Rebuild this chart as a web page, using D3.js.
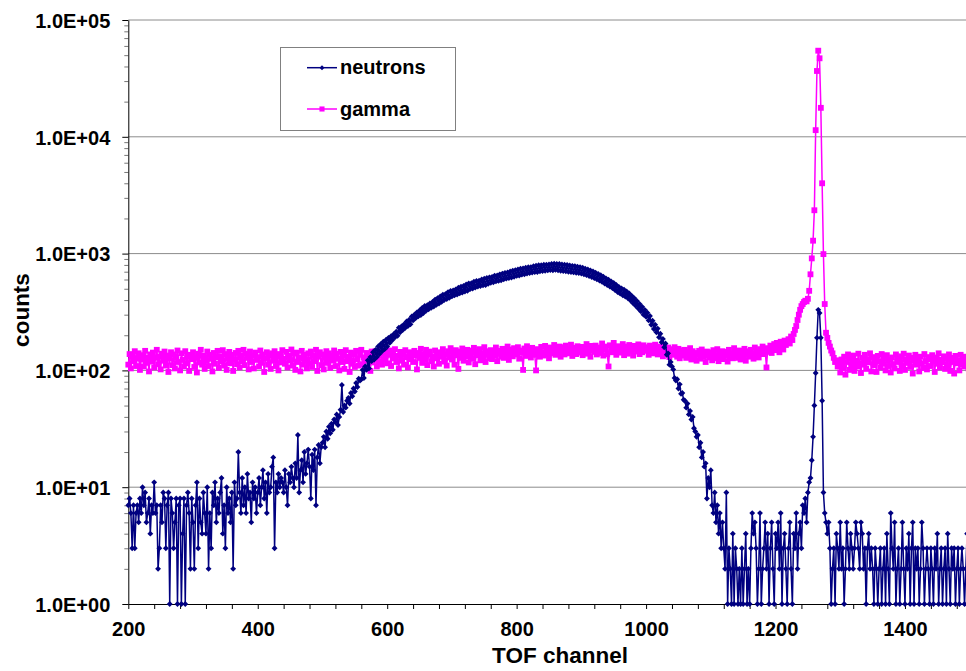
<!DOCTYPE html>
<html>
<head>
<meta charset="utf-8">
<script src="https://cdn.jsdelivr.net/npm/d3@7"></script>
<style>
  body { margin: 0; background: #fff; }
  svg { display: block; font-family: 'Liberation Sans', Arial, sans-serif; font-weight: bold; }
  .axis text { font-size: 20px; font-weight: bold; fill: #000; }
  .axis path, .axis line { stroke: #000; }
  .minor line { stroke: #777; }
  .grid { stroke: #8c8c8c; stroke-width: 1; }
  .title { font-size: 22.5px; fill: #000; }
  .legend text { font-size: 20px; fill: #000; }
</style>
</head>
<body>
<div id="container"></div>
<script>
// channels start at 200, one value every 2 channels
const channelStart = 200
const channelStep = 2

const neutronCounts = [
  7,8,6,3,7,3,6,7,5,8,          // 200
  6,10,7,9,5,6,8,4,7,6,         // 220
  11,6,7,2,3,7,5,9,8,3,         // 240
  7,9,1,8,6,3,5,8,1,7,          // 260
  8,1,4,8,1,7,9,6,2,8,          // 280
  5,2,7,11,3,8,5,4,9,6,         // 300
  4,10,2,6,3,9,7,11,5,8,        // 320
  6,9,12,4,7,3,10,6,8,5,        // 340
  9,2,11,7,8,20,9,6,12,7,       // 360
  10,6,13,8,9,5,11,8,10,6,      // 380
  9,12,7,10,14,8,11,6,13,9,     // 400
  10,15,18,3,11,9,13,10,12,11,  // 420
  9,14,10,7,13,11,15,12,10,16,  // 440
  12,28,9,14,17,11,20,13,16,21, // 460
  15,8,19,14,21,7,18,23,16,22,  // 480
  24,27,22,30,26,33,29,35,31,38,        // 500
  36,42,34,40,46,75,44,50,48,55,        // 520
  58,52,64,60,70,66,78,72,85,82,        // 540
  84,101,86,108,101,122,104,130,120,143,   // 560
  124,150,130,160,138,168,146,176,152,182, // 580
  160,190,172,196,182,204,192,214,198,232, // 600
  212,238,222,248,232,262,240,272,248,290, // 620
  268,300,280,314,290,326,298,342,310,356, // 640
  324,362,334,374,344,386,352,404,364,416, // 660
  374,430,386,444,400,450,408,468,418,478, // 680
  430,484,440,494,446,510,456,520,464,528, // 700
  474,544,480,556,496,558,502,574,512,582, // 720
  522,586,528,600,536,610,538,618,550,626, // 740
  562,632,568,648,578,650,584,664,592,674, // 760
  602,684,610,690,618,704,624,714,634,722, // 780
  644,732,648,742,660,748,666,756,676,764, // 800
  682,766,688,780,694,788,696,794,706,796, // 820
  710,804,714,802,718,808,722,816,720,818, // 840
  728,816,720,814,714,808,710,804,706,798, // 860
  700,792,696,786,690,782,686,772,682,766, // 880
  674,756,666,742,654,732,642,718,630,702, // 900
  616,686,602,670,588,652,572,634,554,614, // 920
  538,598,522,578,506,560,488,538,468,518, // 940
  454,504,440,490,428,474,414,456,396,434, // 960
  376,414,358,392,338,370,320,350,300,330, // 980
  288,312,268,292,246,266,226,246,212,228, // 1000
  192,206,174,186,158,170,136,140,112,118, // 1020
  108,102,86,82,84,70,76,63,64,56,         // 1040
  55,48,52,42,45,38,40,32,30,27,           // 1060
  28,22,24,18,20,15,16,8,12,10,            // 1080
  14,7,6,9,5,7,4,6,3,5,      // 1100
  3,2,9,1,3,2,1,4,1,3,       // 1120
  2,1,2,1,3,1,2,4,1,2,       // 1140
  1,3,6,4,5,3,1,2,6,1,       // 1160
  2,3,5,2,4,1,3,5,2,1,       // 1180
  4,3,5,2,6,1,3,4,2,1,       // 1200
  3,5,2,1,4,3,6,2,4,5,       // 1220
  3,7,6,8,5,9,11,12,17,27,   // 1240
  50,95,190,330,310,190,55,9,6,5, // 1260
  4,5,3,1,2,3,1,4,3,2,       // 1280
  5,2,3,1,2,5,3,2,4,3,       // 1300
  2,3,5,4,3,2,5,4,2,3,       // 1320
  1,3,4,2,3,2,1,3,2,1,       // 1340
  2,3,1,2,3,1,4,2,1,6,       // 1360
  3,2,5,1,2,3,1,2,5,2,       // 1380
  1,3,2,4,1,3,5,1,3,2,       // 1400
  3,1,2,5,3,1,2,3,2,1,       // 1420
  3,2,1,3,2,4,1,2,3,1,       // 1440
  2,3,1,4,2,1,3,2,3,1,       // 1460
  2,3,1,2,3,2,1,2,4,3,       // 1480
  2                          // 1500
]

const gammaCounts = [
  112,138,104,131,120,146,109,127,140,101, // 200
  124,135,108,147,116,129,98,137,119,142,  // 220
  106,128,150,113,132,102,139,121,145,110, // 240
  134,97,126,143,111,137,104,129,148,118,  // 260
  100,140,123,108,146,115,131,99,136,125,  // 280
  143,107,128,96,139,117,150,112,133,103,  // 300
  121,145,109,136,126,98,141,114,130,147,  // 320
  105,132,119,149,110,138,101,127,144,115, // 340
  136,99,124,141,113,147,106,133,120,150,  // 360
  111,139,128,102,145,118,134,104,142,123, // 380
  130,108,148,116,137,97,126,143,112,135,  // 400
  103,140,121,146,109,131,100,138,117,149, // 420
  126,114,144,106,133,122,151,110,139,101, // 440
  142,118,129,98,147,112,136,124,104,140,  // 460
  115,145,107,134,120,150,99,131,143,111,  // 480
  137,102,128,146,116,140,105,133,122,148, // 500
  109,139,126,100,144,118,135,103,149,120, // 520
  131,97,142,114,138,107,147,125,110,136,  // 540
  150,113,129,104,141,122,137,99,145,117,  // 560
  128,146,108,134,119,151,112,139,124,142, // 580
  115,136,148,109,140,127,152,118,133,104, // 600
  144,121,137,112,149,130,106,143,125,139, // 620
  118,147,134,102,141,128,153,116,138,123, // 640
  150,111,136,145,120,132,108,148,127,140, // 660
  114,143,131,152,119,137,110,146,129,155, // 680
  124,139,112,149,135,103,145,128,154,121, // 700
  141,132,150,117,138,147,126,156,113,144, // 720
  135,152,122,141,130,158,118,146,137,127, // 740
  149,125,143,134,157,120,147,139,131,153, // 760
  128,146,138,160,123,151,140,132,155,144, // 780
  137,158,126,148,142,101,154,133,161,139, // 800
  150,129,156,141,136,100,152,145,131,159, // 820
  143,134,162,138,151,127,157,146,140,165, // 840
  136,154,142,160,131,149,158,137,163,145, // 860
  152,140,166,133,156,147,138,161,150,142, // 880
  159,135,153,146,168,139,155,131,162,148, // 900
  144,163,137,157,150,141,170,134,160,152, // 920
  138,108,164,143,155,172,146,136,161,149, // 940
  157,142,168,135,153,160,139,165,147,158, // 960
  134,162,150,145,167,138,156,143,164,151, // 980
  147,158,136,163,144,155,140,166,149,137, // 1000
  160,143,154,132,161,146,139,157,130,152, // 1020
  145,136,158,141,131,153,127,149,140,134, // 1040
  150,128,144,137,155,124,146,133,141,121, // 1060
  138,147,126,151,132,140,118,145,135,129, // 1080
  143,122,149,134,127,152,120,141,130,146, // 1100
  125,144,136,119,150,131,140,127,155,133, // 1120
  139,128,148,124,142,135,153,121,146,137, // 1140
  131,150,140,126,157,136,145,129,152,142, // 1160
  160,138,148,106,155,144,163,141,152,168, // 1180
  149,172,158,143,176,162,151,180,165,174, // 1200
  185,170,195,182,205,222,240,270,300,330, // 1220
  355,370,385,395,390,410,480,665,910,1290, // 1240
  2350,11400,36600,54600,47000,17700,4000,990,370,210, // 1260
  190,172,160,148,140,128,118,122,108,114, // 1280
  96,124,105,131,92,118,137,101,126,110,   // 1300
  134,99,121,108,139,115,95,128,112,136,   // 1320
  103,125,117,140,98,130,111,122,97,133,   // 1340
  119,106,138,114,127,100,135,109,123,96,  // 1360
  129,113,104,137,118,126,99,132,110,139,  // 1380
  101,124,116,134,107,128,94,121,136,112,  // 1400
  127,98,131,115,105,138,119,102,125,130,  // 1420
  109,135,120,97,129,114,140,106,123,117,  // 1440
  132,103,126,111,137,99,118,128,94,133,   // 1460
  115,122,100,136,112,127,108,131,119,104, // 1480
  121                                      // 1500
]

const seriesNames = ['neutrons', 'gamma']
const xTickLabels = [200, 400, 600, 800, 1000, 1200, 1400]
const yTickValues = [1, 10, 100, 1000, 10000, 100000]

window.addEventListener('load', () => {
  let width = 966, height = 671
  let left = 128.3, right = 969.7, top = 20, bottom = 604

  let x = d3.scaleLinear().domain([200, 1500]).range([left, right])
  let y = d3.scaleLog().domain([1, 100000]).range([bottom, top])

  let svg = d3.select('#container')
    .append('svg')
    .attr('width', width)
    .attr('height', height)
    .attr('xmlns', 'http://www.w3.org/2000/svg')

  // gridlines, the top one is the plot border
  svg.append('g')
    .selectAll('line')
    .data(yTickValues.slice(1))
    .join('line')
    .attr('class', 'grid')
    .attr('x1', left).attr('x2', right)
    .attr('y1', d => y(d)).attr('y2', d => y(d))

  // minor log ticks 2..9 per decade
  let minor = []
  yTickValues.slice(0, -1).forEach(p => { for (let k = 2; k < 10; k++) minor.push(p * k) })
  svg.append('g')
    .attr('class', 'axis minor')
    .attr('transform', `translate(${left},0)`)
    .call(d3.axisLeft(y).tickValues(minor).tickSize(4).tickFormat(''))
    .call(g => g.select('.domain').remove())

  let fmt = d => {
    let [m, e] = d.toExponential(1).split('e')
    return m + 'E' + e[0] + e.slice(1).padStart(2, '0')
  }

  svg.append('g')
    .attr('class', 'axis')
    .attr('transform', `translate(${left},0)`)
    .call(d3.axisLeft(y).tickValues(yTickValues).tickSize(6).tickSizeOuter(0)
      .tickPadding(12).tickFormat(fmt))
    .call(g => g.selectAll('text').attr('dy', '0.36em'))

  svg.append('g')
    .attr('class', 'axis')
    .attr('transform', `translate(0,${bottom})`)
    .call(d3.axisBottom(x).tickValues(d3.range(200, 1500, 40)).tickSize(5).tickSizeOuter(0)
      .tickPadding(12.5).tickFormat(d => xTickLabels.includes(d) ? d : ''))

  let pts = arr => arr.map((v, i) => [channelStart + i * channelStep, v])
  let line = d3.line().x(d => x(d[0])).y(d => y(d[1]))

  let series = [
    { name: seriesNames[1], data: pts(gammaCounts), color: '#ff00ff', width: 1.5,
      symbol: d3.symbol(d3.symbolSquare, 34) },
    { name: seriesNames[0], data: pts(neutronCounts), color: '#000080', width: 1.5,
      symbol: d3.symbol(d3.symbolDiamond2, 22) }
  ]

  series.forEach(s => {
    let g = svg.append('g')
    g.append('path')
      .attr('d', line(s.data))
      .attr('fill', 'none')
      .attr('stroke', s.color)
      .attr('stroke-width', s.width)
      .attr('stroke-linejoin', 'round')
    g.selectAll('path.pt')
      .data(s.data)
      .join('path')
      .attr('class', 'pt')
      .attr('d', s.symbol())
      .attr('transform', d => `translate(${x(d[0])},${y(d[1])})`)
      .attr('fill', s.color)
  })

  // axis titles
  svg.append('text')
    .attr('class', 'title')
    .attr('x', 560)
    .attr('y', 663)
    .attr('text-anchor', 'middle')
    .text('TOF channel')

  svg.append('text')
    .attr('class', 'title')
    .attr('transform', 'translate(29,310) rotate(-90)')
    .attr('text-anchor', 'middle')
    .text('counts')

  // legend
  let legend = svg.append('g').attr('class', 'legend')
  legend.append('rect')
    .attr('x', 280.5).attr('y', 47.5)
    .attr('width', 175).attr('height', 83)
    .attr('fill', '#fff')
    .attr('stroke', '#808080')

  let entries = [series[1], series[0]]
  entries.forEach((s, i) => {
    let ly = 67.7 + i * 41.3
    legend.append('line')
      .attr('x1', 307).attr('x2', 337)
      .attr('y1', ly).attr('y2', ly)
      .attr('stroke', s.color)
      .attr('stroke-width', s.width)
    legend.append('path')
      .attr('d', i == 0 ? d3.symbol(d3.symbolDiamond2, 16)() : d3.symbol(d3.symbolSquare, 26)())
      .attr('transform', `translate(322,${ly})`)
      .attr('fill', s.color)
    legend.append('text')
      .attr('x', 340)
      .attr('y', ly + 6.5)
      .text(s.name)
  })
})
</script>
</body>
</html>
